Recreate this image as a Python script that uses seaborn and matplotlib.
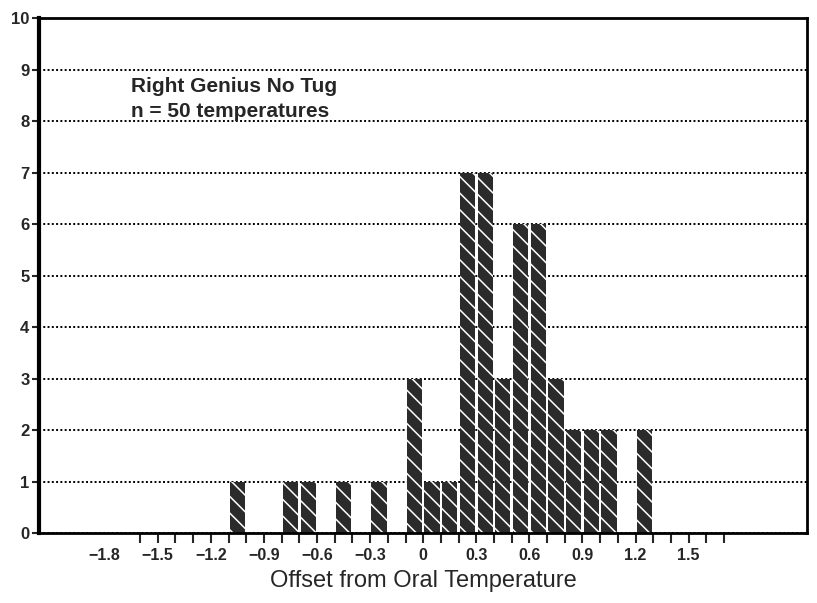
import numpy as np
import pandas as pd
import matplotlib
matplotlib.use("Agg")
import matplotlib.pyplot as plt
import seaborn as sns

# ── Data: offset bins (centres, 0.1 wide) and counts ─────────
bin_centers = [-1.05, -0.75, -0.65, -0.45, -0.25, -0.05, 0.05, 0.15,
               0.25, 0.35, 0.45, 0.55, 0.65, 0.75, 0.85, 0.95, 1.05, 1.25]
counts = [1, 1, 1, 1, 1, 3, 1, 1, 7, 7, 3, 6, 6, 3, 2, 2, 2, 2]
x_label_values = [-1.8, -1.5, -1.2, -0.9, -0.6, -0.3, 0, 0.3, 0.6, 0.9, 1.2, 1.5]
x_label_text = ["\u22121.8", "\u22121.5", "\u22121.2", "\u22120.9", "\u22120.6", "\u22120.3",
                "0", "0.3", "0.6", "0.9", "1.2", "1.5"]
minor_tick_values = [v / 10 for v in range(-16, 18)]
y_ticks = list(range(0, 11))
title_lines = ["Right Genius No Tug", "n = 50 temperatures"]

df = pd.DataFrame({"offset": bin_centers, "count": counts})

sns.set_style("white")
plt.rcParams["font.family"] = ["Liberation Sans", "DejaVu Sans"]
plt.rcParams["hatch.linewidth"] = 1.1

fig = plt.figure(figsize=(8.17, 6.03), dpi=100)
ax = fig.add_axes([0.048, 0.116, 0.940, 0.854])

sns.histplot(
    data=df, x="offset", weights="count",
    binwidth=0.1, binrange=(-1.1, 1.3),
    shrink=0.86, color="#2b2b2b", alpha=1,
    edgecolor="white", linewidth=0, hatch="\\\\",
    ax=ax,
)

ax.set_xlim(-2.17, 2.17)
ax.set_ylim(0, 10)

# dotted horizontal grid
ax.set_axisbelow(True)
ax.yaxis.grid(True, color="black", linestyle=(0, (1, 1.2)), linewidth=1.4)
ax.xaxis.grid(False)

# y axis
ax.set_yticks(y_ticks)
ax.set_yticklabels([str(v) for v in y_ticks], fontweight="bold", fontsize=12)
ax.tick_params(axis="y", direction="out", length=5, width=1.5, left=True, pad=2)

# x axis: small ticks each 0.1, labels every 0.3
ax.xaxis.remove_overlapping_locs = False
ax.set_xticks(minor_tick_values, minor=True)
ax.set_xticks(x_label_values)
ax.set_xticklabels(x_label_text, fontweight="bold", fontsize=11.5)
ax.tick_params(axis="x", which="major", length=0, pad=11)
ax.tick_params(axis="x", which="minor", direction="out", length=7, width=1.5, bottom=True)

ax.set_xlabel("Offset from Oral Temperature", fontsize=17, labelpad=5)
ax.set_ylabel("")

for side in ["top", "right", "bottom", "left"]:
    ax.spines[side].set_visible(True)
    ax.spines[side].set_color("black")
    ax.spines[side].set_linewidth(2)
ax.spines["left"].set_linewidth(3)

ax.text(0.12, 0.868, title_lines[0], transform=ax.transAxes,
        fontsize=15, fontweight="bold", ha="left", va="center")
ax.text(0.12, 0.819, title_lines[1], transform=ax.transAxes,
        fontsize=15, fontweight="bold", ha="left", va="center")

plt.savefig("out.png", dpi=100)
plt.close()
